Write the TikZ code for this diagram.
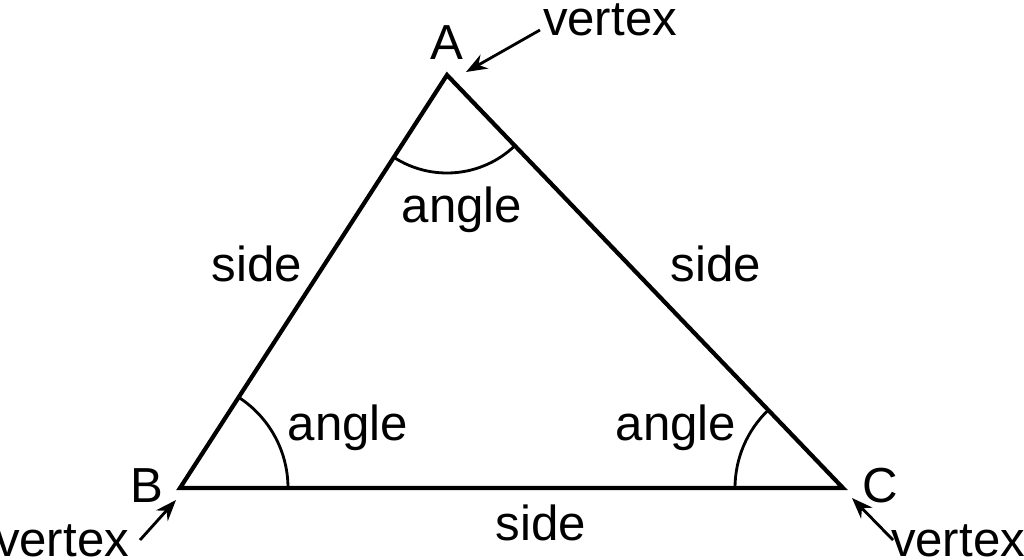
\documentclass[tikz,border=0pt]{standalone}
\usepackage{fontspec}
\setmainfont{Liberation Sans}
\usetikzlibrary{arrows.meta}
\usetikzlibrary{calc}
\usetikzlibrary{positioning}

\begin{document}
\begin{tikzpicture}[x=0.02cm,y=-0.02cm,semithick,
  every node/.style={font=\fontsize{28}{32}\selectfont},
  sideline/.style={line width=2.4pt,line join=miter},
  anglearc/.style={line width=1.6pt},
  pointer/.style={-{Stealth[length=12pt,width=9pt]},line width=1.6pt}]
  \useasboundingbox (0,0) rectangle (1024,559);
  % corners
  \coordinate (A) at (447,75);
  \coordinate (B) at (180,488);
  \coordinate (C) at (843,488);
  \draw[sideline] (A) -- (B) -- (C) -- cycle;
  % angle marks
  \draw[anglearc] ($(A)+(46.2:98)$) arc[start angle=46.2,end angle=122.9,radius=98];
  \draw[anglearc] ($(B)+(-57.1:108)$) arc[start angle=-57.1,end angle=0,radius=108];
  \draw[anglearc] ($(C)+(180:108)$) arc[start angle=180,end angle=226.2,radius=108];
  % letters
  \node (la) at (447,43) {A};
  \node (lb) at (147,486) {B};
  \node (lc) at (880,486) {C};
  % vertex pointers
  \node (va) at (610,20) {vertex};
  \node (vb) at (62,541) {vertex};
  \node (vc) at (958,541) {vertex};
  \coordinate (ta) at (540,30);
  \coordinate (tb) at (140,540);
  \coordinate (tc) at (893,540);
  \draw[pointer] (ta) -- (466,72);
  \draw[pointer] (tb) -- (176,500);
  \draw[pointer] (tc) -- (852,498);
  % sides
  \node (s1) at (257,264) {side};
  \node (s2) at (716,264) {side};
  \node (s3) at (541,523) {side};
  % angles
  \node (a1) at (462,210) {angle};
  \node (a2) at (348,428) {angle};
  \node (a3) at (676,428) {angle};
\end{tikzpicture}
\end{document}
